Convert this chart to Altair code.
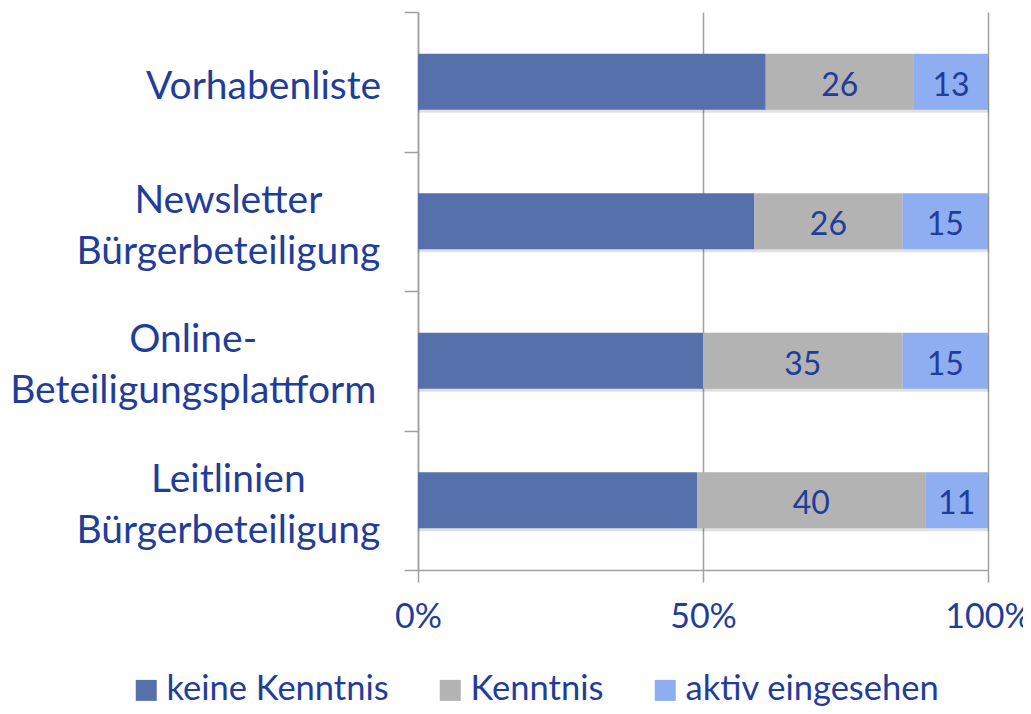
import altair as alt
import pandas as pd

# ---- data ----
categories = [
    "Vorhabenliste",
    "Newsletter|Bürgerbeteiligung",
    "Online-|Beteiligungsplattform",
    "Leitlinien|Bürgerbeteiligung",
]
series = ["keine Kenntnis", "Kenntnis", "aktiv eingesehen"]
keine_kenntnis = [61, 59, 50, 49]
kenntnis = [26, 26, 35, 40]
aktiv_eingesehen = [13, 15, 15, 11]
x_ticks = [0, 50, 100]

colors = ["#5570AB", "#B3B3B3", "#8FAEF2"]
TEXT = "#1F3D99"
GRID = "#A0A0A0"
FONT = "Lato"

rows = []
for i, c in enumerate(categories):
    for j, vals in enumerate([keine_kenntnis, kenntnis, aktiv_eingesehen]):
        rows.append({"cat": c, "series": series[j], "order": j, "value": vals[i]})
df = pd.DataFrame(rows)
cat_df = pd.DataFrame({"cat": categories})

y_enc = alt.Y(
    "cat:N",
    sort=categories,
    scale=alt.Scale(paddingInner=0, paddingOuter=0),
    axis=alt.Axis(
        labels=False, title=None, tickBand="extent", tickSize=14,
        tickColor=GRID, domainColor=GRID, tickWidth=1.5, domainWidth=1.5,
    ),
)

x_axis = alt.Axis(
    values=x_ticks, labelExpr="datum.value + '%'", tickSize=12,
    labelPadding=18, grid=True, gridColor=GRID, gridWidth=1.5,
    domainColor=GRID, domainWidth=1.5, tickColor=GRID, tickWidth=1.5,
    labelFontSize=34, labelFont=FONT, labelColor=TEXT, title=None,
    labelFlush=False,
)
x_scale = alt.Scale(domain=[0, 100], nice=False)

# soft shadow under each bar
shadow = alt.Chart(df).mark_bar(
    size=56, color="#000000", opacity=0.12, yOffset=3, xOffset=1
).encode(
    x=alt.X("sum(value):Q", scale=x_scale, axis=x_axis),
    y=y_enc,
)

bars = alt.Chart(df).mark_bar(size=56).encode(
    x=alt.X("value:Q", stack="zero", scale=x_scale, axis=x_axis),
    y=y_enc,
    color=alt.Color(
        "series:N",
        scale=alt.Scale(domain=series, range=colors),
        legend=alt.Legend(
            orient="none", legendX=-289, legendY=661, direction="horizontal",
            title=None, symbolType="square", symbolSize=441,
            symbolStrokeWidth=0, labelFontSize=34.5, labelFont=FONT,
            labelColor=TEXT, columnPadding=44, labelOffset=3, labelLimit=400,
        ),
    ),
    order=alt.Order("order:Q"),
)

values_text = alt.Chart(df).transform_stack(
    stack="value", as_=["x0", "x1"], groupby=["cat"],
    sort=[alt.SortField("order", order="ascending")],
).transform_calculate(
    mid="(datum.x0 + datum.x1) / 2"
).transform_filter(
    "datum.order > 0"
).mark_text(
    font=FONT, fontSize=32, color=TEXT, baseline="middle", align="center", dy=4
).encode(
    x=alt.X("mid:Q"),
    y=y_enc,
    text=alt.Text("value:Q"),
)

labels = alt.Chart(cat_df).transform_calculate(
    lines="split(datum.cat, '|')"
).transform_calculate(
    maxlen="max(length(datum.lines[0]), datum.lines.length > 1 ? length(datum.lines[1]) : 0)",
    nlines="datum.lines.length",
).mark_text(
    font=FONT, fontSize=39, color=TEXT, baseline="middle", align="center",
    lineHeight=51,
    dx=alt.expr("-40 - datum.maxlen * 8.8"),
    dy=alt.expr("5 - (datum.nlines - 1) * 25.5"),
).encode(
    x=alt.value(0),
    y=y_enc,
    text=alt.Text("lines:N"),
)

chart = alt.layer(shadow, bars, values_text, labels).properties(
    width=570,
    height=558,
    padding={"left": 410, "top": 4, "right": 35, "bottom": 136},
    autosize="none",
).configure_view(stroke=None)

chart.save("out.html", embed_options={"renderer": "svg", "actions": False})
